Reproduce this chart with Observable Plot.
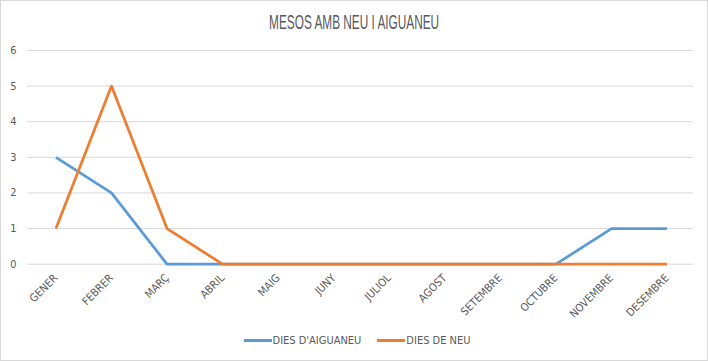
<!DOCTYPE html>
<html><head><meta charset="utf-8">
<script src="https://cdn.jsdelivr.net/npm/d3@7"></script>
<script src="https://cdn.jsdelivr.net/npm/@observablehq/plot@0.6"></script>
<style>
body{margin:0;background:#fff;}
#wrap{position:relative;width:708px;height:361px;box-sizing:border-box;border:1px solid #d9d9d9;font-family:"Liberation Sans Narrow","DejaVu Sans Condensed",sans-serif;color:#595959;overflow:hidden;}
#title{position:absolute;top:9px;left:0;width:706px;text-align:center;font-size:21px;color:#595959;font-family:"Liberation Sans",sans-serif;}
#title span{display:inline-block;transform-origin:center;}
#chart{position:absolute;top:37px;left:-1px;}
#legend{position:absolute;top:333px;left:0;width:706px;display:flex;justify-content:center;gap:16px;font-size:11px;padding-left:6px;box-sizing:border-box;}
.item{display:flex;align-items:center;gap:1px;}
.sw{width:28px;height:3px;display:inline-block;}
</style></head>
<body>
<div id="wrap">
<div id="title"><span id="tt">MESOS AMB NEU I AIGUANEU</span></div>
<div id="chart"></div>
<div id="legend"></div>
</div>
<script>
const months = ["GENER","FEBRER","MARÇ","ABRIL","MAIG","JUNY","JULIOL","AGOST","SETEMBRE","OCTUBRE","NOVEMBRE","DESEMBRE"];
const aiguaneu = [3,2,0,0,0,0,0,0,0,0,1,1];
const neu = [1,5,1,0,0,0,0,0,0,0,0,0];
const seriesNames = ["DIES D'AIGUANEU","DIES DE NEU"];
const colors = ["#5b9bd5","#ed7d31"];
const yTicks = [0,1,2,3,4,5,6];

const data = [];
months.forEach((m,i)=>{
  data.push({month:m, value:aiguaneu[i], series:seriesNames[0]});
});
months.forEach((m,i)=>{
  data.push({month:m, value:neu[i], series:seriesNames[1]});
});

const plot = Plot.plot({
  width:708, height:286,
  marginLeft:27, marginRight:14, marginTop:12, marginBottom:60,
  style:{fontFamily:'"Liberation Sans Narrow","DejaVu Sans Condensed",sans-serif', fontSize:"11px", color:"#595959", background:"transparent"},
  x:{type:"point", domain:months, range:[55.5, 667.5], padding:0, round:false, label:null},
  y:{domain:[0,6], ticks:yTicks, label:null},
  color:{domain:seriesNames, range:colors},
  marks:[
    Plot.gridY(yTicks,{stroke:"#d9d9d9", strokeOpacity:1, strokeWidth:1}),
    Plot.axisY(yTicks,{tickSize:0, tickPadding:11, fontSize:11, label:null}),
    Plot.axisX({tickSize:0, tickPadding:12, tickRotate:-45, fontSize:11, label:null}),
    Plot.line(data,{x:"month", y:"value", z:"series", stroke:"series", strokeWidth:2.75, strokeLinejoin:"round", strokeLinecap:"butt"})
  ]
});
document.getElementById("chart").appendChild(plot);

const tt = document.getElementById("tt");
const w = tt.getBoundingClientRect().width;
tt.style.transform = `scaleX(${170 / w})`;

const leg = document.getElementById("legend");
seriesNames.forEach((s,i)=>{
  const it = document.createElement("div"); it.className="item";
  const sw = document.createElement("span"); sw.className="sw"; sw.style.background=colors[i];
  const t = document.createElement("span"); t.textContent=s;
  it.appendChild(sw); it.appendChild(t); leg.appendChild(it);
});
</script>
</body></html>
